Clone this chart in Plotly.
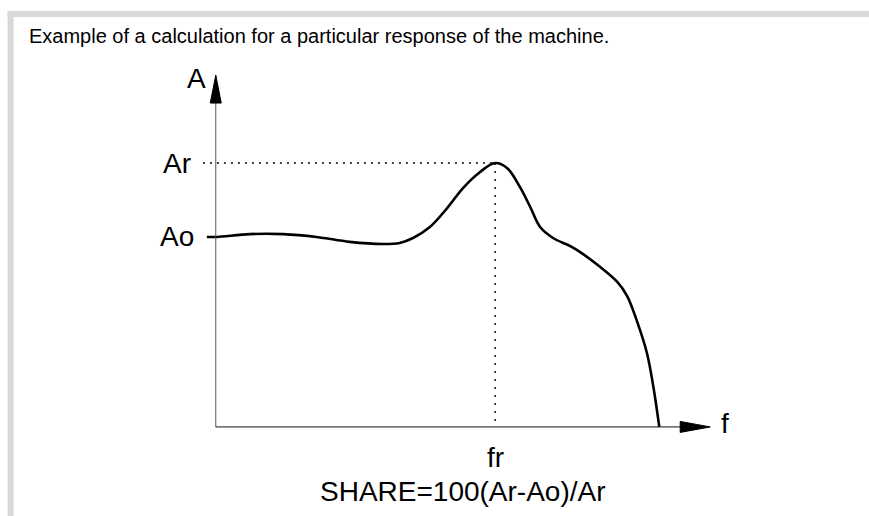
import plotly.graph_objects as go

# ---- data (arbitrary units: frequency f, amplitude A) ----
freq = [-1.8, 0.2, 6.9, 13.6, 20.4, 27.1, 33.8, 37.2, 39.9, 43.3, 46.8, 50.0, 53.4,
        56.5, 58.9, 61.5, 63.6, 65.6, 68.2, 71.7, 73.7, 77.7, 81.2, 83.2, 85.2,
        87.2, 88.5, 89.7]
amplitude = [54.0, 54.0, 54.8, 54.8, 54.0, 52.6, 52.0, 52.3, 53.7, 56.8, 62.2, 67.9,
             72.4, 75.0, 73.6, 68.2, 62.5, 56.8, 53.7, 51.4, 49.7, 45.5, 41.2, 37.2,
             30.0, 21.0, 11.4, 0.0]
A_o = 54.0      # amplitude at f = 0
A_r = 75.0      # resonance amplitude
f_r = 56.5      # resonance frequency
f_axis_end = 100.0
A_axis_end = 100.0

title_text = "Example of a calculation for a particular response of the machine."
formula_text = "SHARE=100(Ar-Ao)/Ar"

# ---- layout geometry ----
W, H = 869, 516
KX, KY = 4.94, 3.52          # px per unit
X0_PX, Y0_PX = 216, 427      # pixel position of origin
XR = [-4, 104]
YR = [-4, 104]
ML = X0_PX + XR[0] * KX
MR = W - (X0_PX + XR[1] * KX)
MT = Y0_PX - YR[1] * KY
MB = H - (Y0_PX - YR[0] * KY)
PW = W - ML - MR
PH = H - MT - MB


def px_x(px):
    return (px - ML) / PW


def px_y(py):
    return (H - MB - py) / PH


FONT = "Liberation Sans, Arial, Helvetica, sans-serif"

fig = go.Figure()
fig.add_trace(go.Scatter(
    x=freq, y=amplitude, mode="lines",
    line=dict(color="black", width=2.6, shape="spline", smoothing=1.0),
    hoverinfo="skip", showlegend=False,
))

shapes = []
# gray frame bands
shapes.append(dict(type="rect", xref="paper", yref="paper",
                   x0=px_x(8), x1=px_x(870), y0=px_y(17), y1=px_y(11),
                   fillcolor="#d9d9d9", line=dict(width=0), layer="below"))
shapes.append(dict(type="rect", xref="paper", yref="paper",
                   x0=px_x(8), x1=px_x(14), y0=px_y(516), y1=px_y(11),
                   fillcolor="#d9d9d9", line=dict(width=0), layer="below"))
# axes
shapes.append(dict(type="line", xref="x", yref="y", x0=0, y0=0, x1=0, y1=A_axis_end - 6,
                   line=dict(color="#555555", width=1)))
shapes.append(dict(type="line", xref="x", yref="y", x0=0, y0=0, x1=f_axis_end - 5, y1=0,
                   line=dict(color="#111111", width=1)))
# arrow heads
ah_len_y, ah_half_y = 28 / KY, 5.5 / KX
shapes.append(dict(type="path", xref="x", yref="y",
                   path=f"M 0,{A_axis_end} L {-ah_half_y},{A_axis_end - ah_len_y} "
                        f"L {ah_half_y},{A_axis_end - ah_len_y} Z",
                   fillcolor="black", line=dict(color="black", width=1)))
ah_len_x, ah_half_x = 30 / KX, 5.5 / KY
shapes.append(dict(type="path", xref="x", yref="y",
                   path=f"M {f_axis_end},0 L {f_axis_end - ah_len_x},{ah_half_x} "
                        f"L {f_axis_end - ah_len_x},{-ah_half_x} Z",
                   fillcolor="black", line=dict(color="black", width=1)))
# dotted guides
shapes.append(dict(type="line", xref="x", yref="y", x0=-2.6, y0=A_r, x1=f_r, y1=A_r,
                   line=dict(color="black", width=1.4, dash="2px,5px")))
shapes.append(dict(type="line", xref="x", yref="y", x0=f_r, y0=A_r, x1=f_r, y1=0,
                   line=dict(color="black", width=1.4, dash="2px,6px")))

annotations = [
    dict(text=title_text, xref="paper", yref="paper", x=px_x(27), y=px_y(36),
         xanchor="left", yanchor="middle", showarrow=False,
         font=dict(family=FONT, size=20, color="black")),
    dict(text="A", xref="x", yref="y", x=0, y=A_axis_end, xshift=-19, yshift=-3,
         xanchor="center", yanchor="middle", showarrow=False,
         font=dict(family=FONT, size=28, color="black")),
    dict(text="f", xref="x", yref="y", x=f_axis_end, y=0, xshift=15, yshift=3,
         xanchor="center", yanchor="middle", showarrow=False,
         font=dict(family=FONT, size=28, color="black")),
    dict(text="Ar", xref="x", yref="y", x=0, y=A_r, xshift=-23,
         xanchor="right", yanchor="middle", showarrow=False,
         font=dict(family=FONT, size=28, color="black")),
    dict(text="Ao", xref="x", yref="y", x=0, y=A_o, xshift=-20,
         xanchor="right", yanchor="middle", showarrow=False,
         font=dict(family=FONT, size=28, color="black")),
    dict(text="fr", xref="x", yref="y", x=f_r, y=0, yshift=-31,
         xanchor="center", yanchor="middle", showarrow=False,
         font=dict(family=FONT, size=28, color="black")),
    dict(text=formula_text, xref="paper", yref="paper", x=px_x(463), y=px_y(492),
         xanchor="center", yanchor="middle", showarrow=False,
         font=dict(family=FONT, size=28, color="black")),
]

fig.update_layout(
    width=W, height=H,
    margin=dict(l=ML, r=MR, t=MT, b=MB, pad=0),
    paper_bgcolor="white", plot_bgcolor="white",
    xaxis=dict(range=XR, visible=False, fixedrange=True),
    yaxis=dict(range=YR, visible=False, fixedrange=True),
    shapes=shapes, annotations=annotations,
    showlegend=False,
)

fig.write_html(
    "out.html",
    config={"displayModeBar": False},
    post_script="document.body.style.margin='0';document.body.style.overflow='hidden';",
)
